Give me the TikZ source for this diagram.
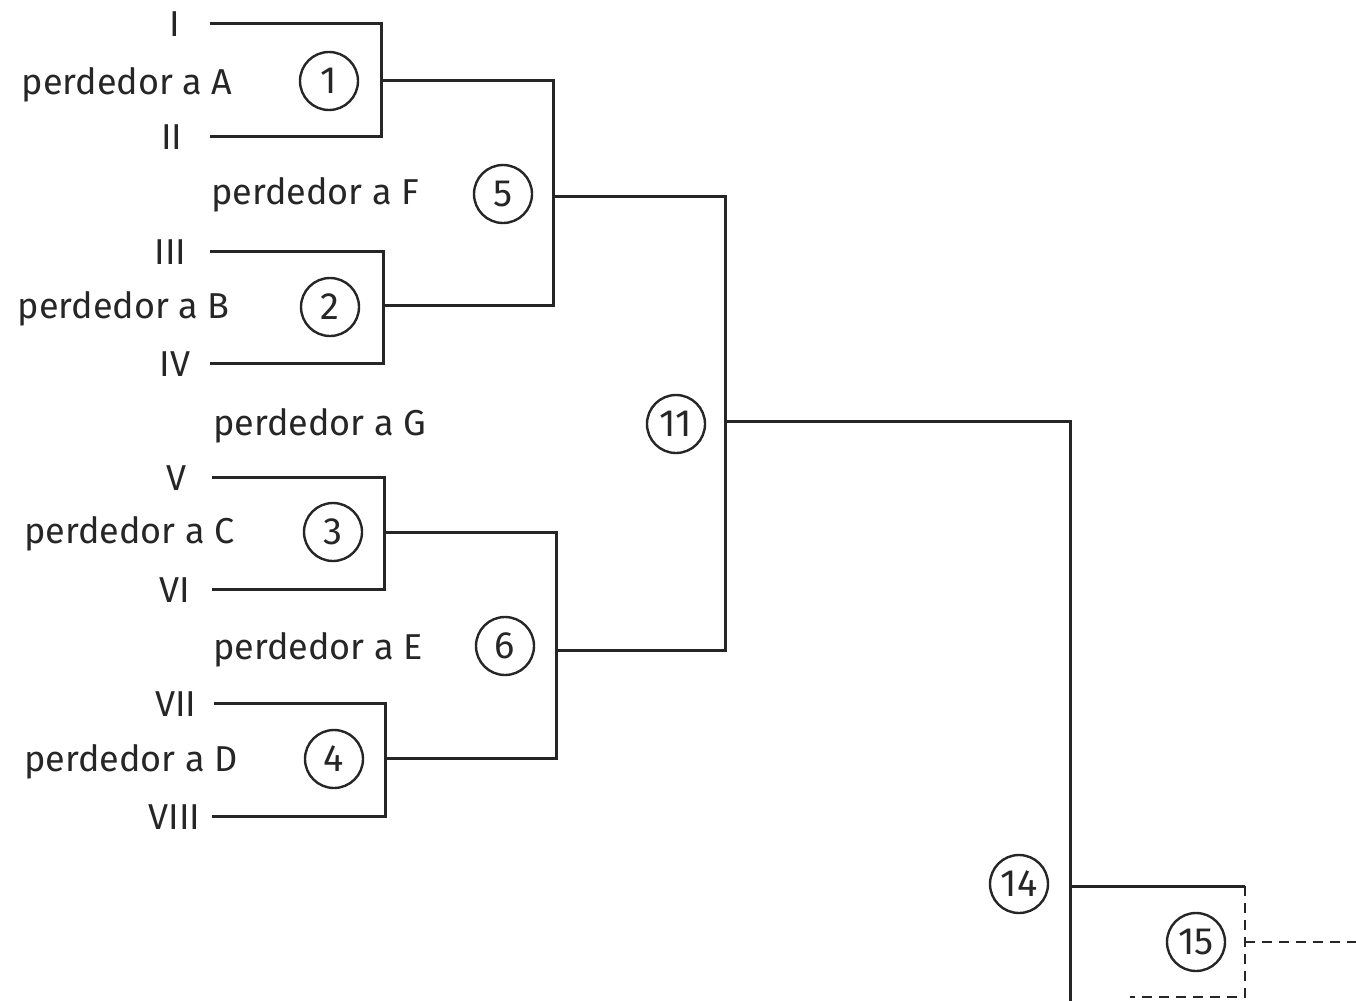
\documentclass[tikz,border=0pt]{standalone}
\usepackage{fontspec}
\setmainfont{Fira Sans}
\begin{document}
\definecolor{ink}{HTML}{262626}
\begin{tikzpicture}[x=0.5pt,y=-0.5pt,
  wire/.style={draw=ink,line width=1.5pt,line join=miter},
  future/.style={draw=ink,line width=1.3pt,dash pattern=on 5pt off 3.5pt},
  game/.style={circle,draw=ink,line width=1.2pt,minimum size=29pt,inner sep=0pt,
    text=ink,font=\fontsize{19}{22}\selectfont},
  seed/.style={anchor=east,inner sep=0pt,text=ink,font=\fontsize{18}{21}\selectfont},
  loser/.style={anchor=west,inner sep=0pt,text=ink,font=\fontsize{18}{21}\selectfont}]
\useasboundingbox (0,0) rectangle (1356,1001);

% entrants on the left
\node[seed] (sI)    at (181,24)  {I};
\node[seed] (lA)    at (233,85)  {perdedor a A};
\node[seed] (sII)   at (183,137) {II};
\node[loser] (lF)   at (211,195) {perdedor a F};
\node[seed] (sIII)  at (187,252) {III};
\node[seed] (lB)    at (230,309) {perdedor a B};
\node[seed] (sIV)   at (191,364) {IV};
\node[loser] (lG)   at (213,426) {perdedor a G};
\node[seed] (sV)    at (187,478) {V};
\node[seed] (lC)    at (235,534) {perdedor a C};
\node[seed] (sVI)   at (191,590) {VI};
\node[loser] (lE)   at (213,650) {perdedor a E};
\node[seed] (sVII)  at (197,704) {VII};
\node[seed] (lD)    at (238,762) {perdedor a D};
\node[seed] (sVIII) at (201,817) {VIII};

% match numbers
\node[game] (g1)  at (329,81)   {1};
\node[game] (g2)  at (330,307)  {2};
\node[game] (g3)  at (333,532)  {3};
\node[game] (g4)  at (334,759)  {4};
\node[game] (g5)  at (503,194)  {5};
\node[game] (g6)  at (505,646)  {6};
\node[game] (g11) at (676,424)  {11};
\node[game] (g14) at (1019,884) {14};
\node[game] (g15) at (1196,942) {15};

% line ends and junctions
\coordinate (eI)    at (210,23);
\coordinate (eII)   at (210,136);
\coordinate (eIII)  at (210,251);
\coordinate (eIV)   at (210,363);
\coordinate (eV)    at (212,477);
\coordinate (eVI)   at (212,589);
\coordinate (eVII)  at (214,703);
\coordinate (eVIII) at (212,816);
\coordinate (j1)  at (381,80);
\coordinate (j2)  at (383,305);
\coordinate (j3)  at (384,532);
\coordinate (j4)  at (385,758);
\coordinate (j5)  at (553,196);
\coordinate (j6)  at (556,650);
\coordinate (j11) at (725,421);
\coordinate (j14) at (1070,886);
\coordinate (j14e) at (1245,886);
\coordinate (down) at (1070,1001);
\coordinate (j15) at (1245,942);
\coordinate (out15) at (1356,942);
\coordinate (low15) at (1245,997);
\coordinate (low15e) at (1130,997);

% first round
\draw[wire] (eI) -| (j1) |- (eII);
\draw[wire] (eIII) -| (j2) |- (eIV);
\draw[wire] (eV) -| (j3) |- (eVI);
\draw[wire] (eVII) -| (j4) |- (eVIII);
% later rounds
\draw[wire] (j1) -| (j5) |- (j2);
\draw[wire] (j3) -| (j6) |- (j4);
\draw[wire] (j5) -| (j11) |- (j6);
\draw[wire] (j11) -| (j14) -- (down);
\draw[wire] (j14) -- (j14e);
% pending matches
\draw[future] (j14e) -- (low15) -- (low15e);
\draw[future] (j15) -- (out15);
\end{tikzpicture}
\end{document}
